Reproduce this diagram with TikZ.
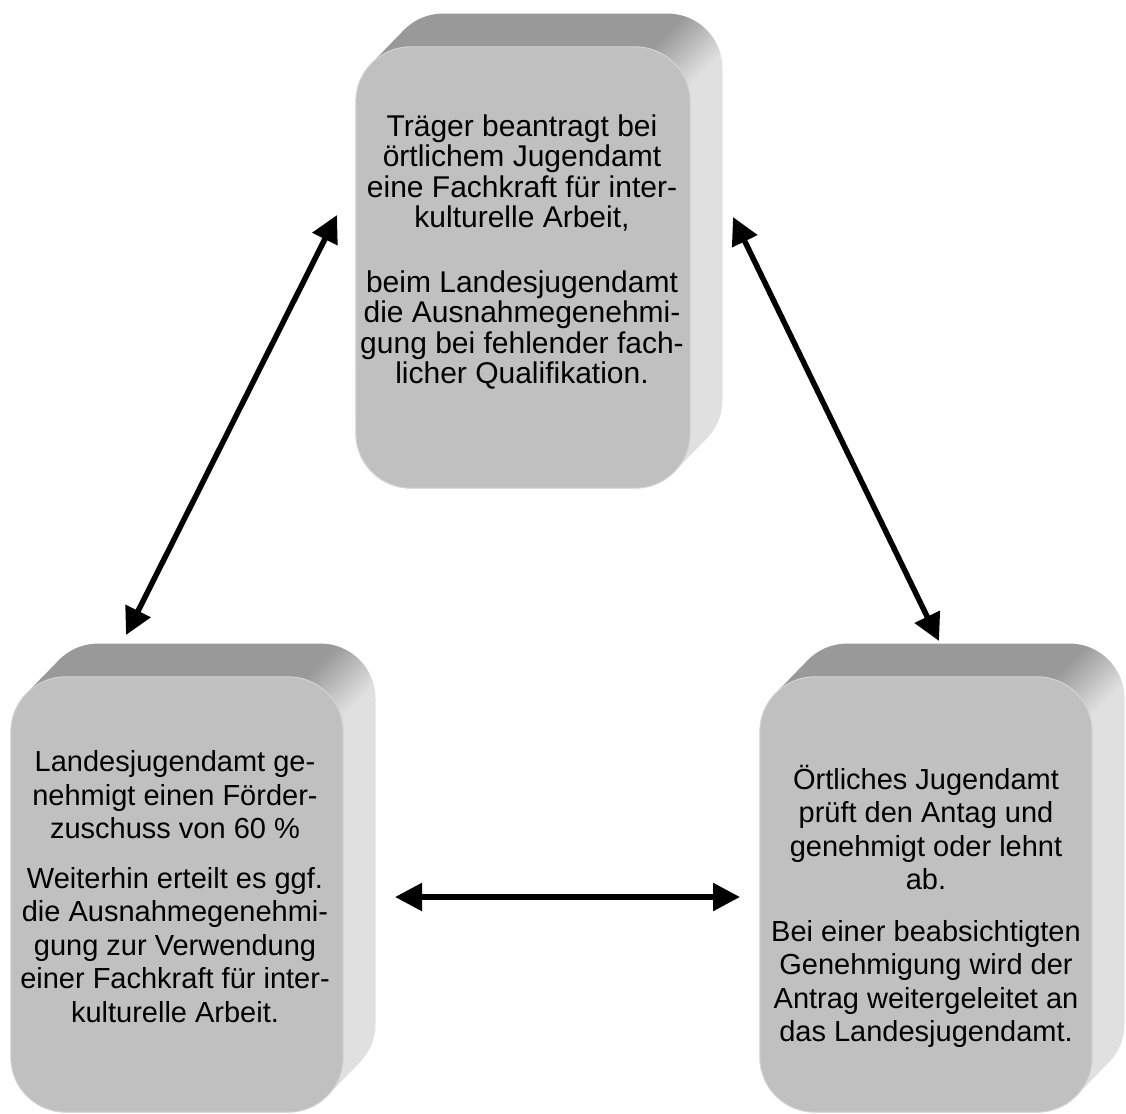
\documentclass[tikz,border=0pt]{standalone}
\usepackage{fontspec}
\setmainfont{Liberation Sans}
\usetikzlibrary{arrows.meta}
\definecolor{slabfront}{HTML}{C0C0C0}
\definecolor{slabtop}{HTML}{999999}
\definecolor{slabside}{HTML}{E0E0E0}
\pgfdeclarehorizontalshading{bevel}{100bp}{color(0bp)=(slabtop); color(48.5bp)=(slabtop);
  color(51.5bp)=(slabside); color(100bp)=(slabside)}

\begin{document}
\begin{tikzpicture}[x=1pt, y=-1pt,
    slab/.style={minimum width=332pt, minimum height=435pt, inner sep=0pt},
    face/.style={draw=slabfront!70!white, line width=1pt, fill=slabfront, rounded corners=55pt},
    txt/.style={align=center, inner sep=0pt, font=\fontsize{29pt}{33.4pt}\selectfont},
    dbl/.style={line width=5.5pt, {Triangle[length=27pt,width=27pt]}-{Triangle[length=27pt,width=27pt]}}]
    \useasboundingbox (0,0) rectangle (1126,1113);
    \path node[slab, minimum width=334pt, minimum height=441pt] (trae) at (523,267.5) {}
          node[slab] (land) at (177,894.5) {}
          node[slab] (oert) at (926,894.5) {};
    \foreach \n in {trae,land,oert} {
      \scope
        \clip[rounded corners=55pt] \foreach \k in {0,0.05,...,1}
          {([shift={(34*\k,-35*\k)}]\n.south west) rectangle ([shift={(34*\k,-35*\k)}]\n.north east)};
        \coordinate (c) at ([shift={(-55,55)}]\n.north east);
        \shade[shading=bevel, shading angle=-45] ([shift={(-450,-450)}]c) rectangle ([shift={(450,450)}]c);
      \endscope
      \draw[face] (\n.south west) rectangle (\n.north east);
    }
    \node[txt, font=\fontsize{30pt}{30.3pt}\selectfont] (traetxt) at (522,252)
      {Träger beantragt bei\\ örtlichem Jugendamt\\ eine Fachkraft für inter-\\ kulturelle Arbeit,\\[34.7pt]
       beim Landesjugendamt\\ die Ausnahmegenehmi-\\ gung bei fehlender fach-\\ licher Qualifikation.};
    \node[txt] (landtxt) at (175,886.5)
      {Landesjugendamt ge-\\ nehmigt einen Förder-\\ zuschuss von 60 \%\\[16.6pt]
       Weiterhin erteilt es ggf.\\ die Ausnahmegenehmi-\\ gung zur Verwendung\\ einer Fachkraft für inter-\\ kulturelle Arbeit.};
    \node[txt] (oerttxt) at (926,906.5)
      {Örtliches Jugendamt\\ prüft den Antag und\\ genehmigt oder lehnt\\ ab.\\[18.5pt]
       Bei einer beabsichtigten\\ Genehmigung wird der\\ Antrag weitergeleitet an\\ das Landesjugendamt.};
    \coordinate (l1) at (126,635); \coordinate (l2) at (337,215);
    \coordinate (r1) at (733,217); \coordinate (r2) at (939,641);
    \coordinate (h1) at (395,897); \coordinate (h2) at (740,897);
    \draw[dbl] (l1) -- (l2);
    \draw[dbl] (r1) -- (r2);
    \draw[dbl] (h1) -- (h2);
  \end{tikzpicture}
\end{document}
